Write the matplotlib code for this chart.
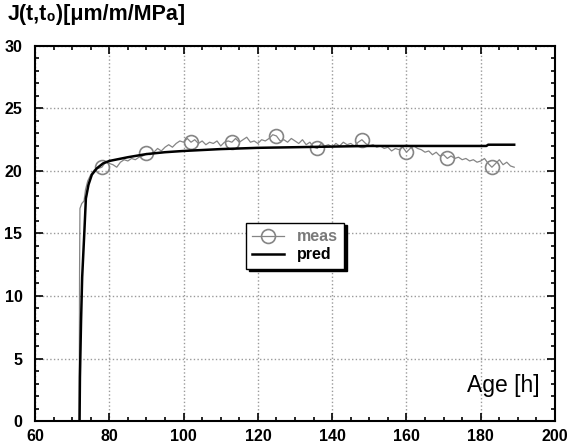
import numpy as np
import matplotlib.pyplot as plt
from matplotlib.ticker import MultipleLocator

plt.rcParams['font.family'] = ['Liberation Sans', 'DejaVu Sans']

# measured compliance (gray, noisy)
meas_age = [71.9, 72.0, 72.1, 72.6, 73.2, 73.6, 74.2, 75, 76, 77,
            78, 79, 80, 81, 82, 83, 84, 85, 86, 87, 88, 89, 90,
            91, 92, 93, 94, 95, 96, 97, 98, 99, 100, 101, 102,
            103, 104, 105, 106, 107, 108, 109, 110, 111, 112, 113,
            114, 115, 116, 117, 118, 119, 120, 121, 122, 123, 124, 125,
            126, 127, 128, 129, 130, 131, 132, 133, 134, 135, 136,
            137, 138, 139, 140, 141, 142, 143, 144, 145, 146, 147, 148,
            149, 150, 151, 152, 153, 154, 155, 156, 157, 158, 159, 160,
            161, 162, 163, 164, 165, 166, 167, 168, 169, 170, 171,
            172, 173, 174, 175, 176, 177, 178, 179, 180, 181, 182, 183,
            184, 185, 186, 187, 188, 189]
meas_J = [0.0, 12.0, 17.0, 17.4, 17.6, 18.5, 19.2, 19.7, 20.1, 20.2,
          20.3, 20.7, 20.6, 20.5, 20.3, 20.7, 20.9, 20.8, 21.0, 20.9, 21.1, 21.2, 21.4,
          21.3, 21.5, 21.8, 21.6, 21.9, 22.1, 21.9, 22.2, 22.4, 22.3, 22.6, 22.3,
          22.5, 22.2, 22.4, 22.1, 22.3, 22.2, 22.4, 22.0, 22.3, 22.4, 22.3,
          22.6, 22.3, 22.5, 22.7, 22.3, 22.4, 22.2, 22.5, 22.4, 22.6, 22.9, 22.8,
          22.4, 22.5, 22.3, 22.6, 22.4, 22.2, 22.5, 22.1, 22.3, 21.9, 21.8,
          22.2, 22.0, 22.1, 21.9, 22.2, 22.0, 22.3, 22.1, 22.2, 22.0, 22.3, 22.5,
          22.2, 22.0, 22.1, 21.9, 22.0, 21.8, 21.9, 21.6, 21.8, 21.7, 21.9, 21.5,
          21.8, 22.0, 21.8, 21.7, 21.5, 21.6, 21.3, 21.5, 21.2, 21.3, 21.0,
          21.2, 21.0, 21.1, 20.9, 21.0, 20.8, 20.9, 20.7, 20.8, 21.0, 20.6, 20.3,
          20.6, 20.9, 20.5, 20.7, 20.4, 20.3]
marker_ages = [78, 90, 102, 113, 125, 136, 148, 160, 171, 183]

# predicted compliance (black)
pred_age = [72.0, 72.1, 72.4, 72.7, 73.3, 73.7, 74.4, 75.3, 76.6, 78.3,
            80, 85, 90, 95, 100, 110, 120, 130, 140, 150, 160, 170,
            181.5, 182, 189]
pred_J = [0.0, 3.5, 8.0, 11.5, 15.2, 17.8, 18.9, 19.7, 20.2, 20.6,
          20.8, 21.1, 21.35, 21.5, 21.6, 21.75, 21.85, 21.9, 21.95, 22.0, 22.0, 22.0,
          22.0, 22.1, 22.1]

fig = plt.figure(figsize=(5.69, 4.46), dpi=100)
ax = fig.add_axes([0.0615, 0.056, 0.914, 0.841])

mark_idx = [meas_age.index(a) for a in marker_ages]
ax.plot(meas_age, meas_J, color='#858585', lw=0.9, marker='o', markevery=mark_idx,
        ms=10, mfc='none', mec='#858585', mew=1.2, label='meas')
ax.plot(pred_age, pred_J, color='black', lw=1.8, label='pred')

ax.set_xlim(60, 200)
ax.set_ylim(0, 30)
ax.xaxis.set_major_locator(MultipleLocator(20))
ax.xaxis.set_minor_locator(MultipleLocator(5))
ax.yaxis.set_major_locator(MultipleLocator(5))
ax.yaxis.set_minor_locator(MultipleLocator(1))
ax.tick_params(which='both', direction='in', top=True, right=True, width=1.2)
ax.tick_params(which='major', length=6, labelsize=11.5)
ax.tick_params(which='minor', length=3)
ax.tick_params(axis='x', which='major', pad=6)
ax.tick_params(axis='y', which='major', pad=9)
for lab in ax.get_xticklabels() + ax.get_yticklabels():
    lab.set_fontweight('bold')
for sp in ax.spines.values():
    sp.set_linewidth(1.5)
ax.grid(True, which='major', color='#9a9a9a', ls=':', lw=1.0)

fig.text(0.014, 0.99, 'J(t,t\u2080)[\u03bcm/m/MPa]', fontsize=15.5, fontweight='bold',
         ha='left', va='top')
ax.text(0.97, 0.065, 'Age [h]', transform=ax.transAxes, fontsize=16.5,
        ha='right', va='bottom')

leg = ax.legend(loc='upper left', bbox_to_anchor=(0.39, 0.55), fancybox=False,
                framealpha=1, edgecolor='black', shadow={'color': 'black', 'alpha': 1},
                prop={'weight': 'bold', 'size': 11.5}, handlelength=2.0,
                borderpad=0.4, labelspacing=0.2)
leg.get_frame().set_linewidth(1.0)
leg.get_texts()[0].set_color('#7a7a7a')

fig.savefig('out.png', dpi=100)
